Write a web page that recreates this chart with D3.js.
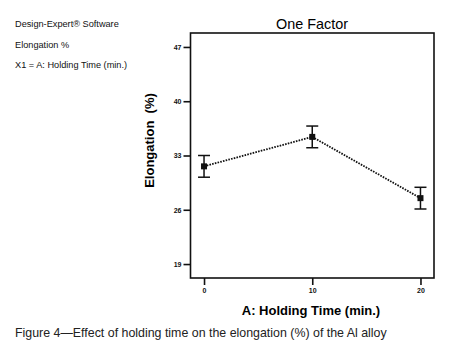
<!DOCTYPE html>
<html>
<script src="https://d3js.org/d3.v7.min.js"></script>

<head>
    <style>
        body {
            margin: 0;
            background-color: white;
            font-family: "Liberation Sans", Arial, Helvetica, sans-serif;
        }

        svg {
            display: block;
        }
    </style>
</head>

<body>
    <svg width="454" height="349"></svg>
</body>
<script>
    const width = 454,
        height = 349;
    const svg = d3.select("svg");

    // holding time (min.)
    const TIMES = [0, 10, 20];
    const MEANS = [31.6, 35.4, 27.5];
    const ERRORS = [1.4, 1.4, 1.4];
    const X_TICKS = [0, 10, 20];
    const Y_TICKS = [19, 26, 33, 40, 47];
    const INFO = ["Design-Expert® Software", "Elongation %", "X1 = A: Holding Time (min.)"];

    function draw() {
        const xScale = d3.scaleLinear().domain([-1.25, 21.25]).range([190.5, 434]);
        const yScale = d3.scaleLinear().domain([17.2, 48.8]).range([278, 33]);

        // info text on the left
        INFO.forEach((t, i) => {
            svg.append("text")
                .attr("x", 15)
                .attr("y", 27 + i * 20.5)
                .attr("font-size", "9.2px")
                .attr("fill", "#111")
                .text(t);
        });

        svg.append("text")
            .attr("x", 312)
            .attr("y", 29)
            .attr("text-anchor", "middle")
            .attr("font-size", "14.4px")
            .text("One Factor");

        // frame
        svg.append("rect")
            .attr("x", xScale(-1.25))
            .attr("y", yScale(48.8))
            .attr("width", xScale(21.25) - xScale(-1.25))
            .attr("height", yScale(17.2) - yScale(48.8))
            .attr("fill", "none")
            .attr("stroke", "#111")
            .attr("stroke-width", 1.6);

        // axes
        const yAxis = d3.axisLeft(yScale).tickValues(Y_TICKS).tickSize(7).tickPadding(2);
        const gy = svg.append("g")
            .attr("transform", `translate(${xScale(-1.25)},0)`)
            .call(yAxis);
        const xAxis = d3.axisBottom(xScale).tickValues(X_TICKS).tickSize(7).tickPadding(3);
        const gx = svg.append("g")
            .attr("transform", `translate(0,${yScale(17.2)})`)
            .call(xAxis);
        [gx, gy].forEach(g => {
            g.select(".domain").remove();
            g.selectAll("line").attr("stroke", "#111").attr("stroke-width", 1.6);
            g.selectAll("text")
                .attr("font-family", "'Liberation Sans', Arial, sans-serif")
                .attr("font-size", "7px")
                .attr("font-weight", "bold")
                .attr("fill", "#111");
        });

        // axis titles
        svg.append("text")
            .attr("transform", `translate(154,${yScale(33) - 15}) rotate(-90)`)
            .attr("text-anchor", "middle")
            .attr("font-size", "13px")
            .attr("font-weight", "bold")
            .attr("xml:space", "preserve")
            .style("white-space", "pre")
            .text("Elongation  (%)");
        svg.append("text")
            .attr("x", 311)
            .attr("y", 315)
            .attr("text-anchor", "middle")
            .attr("font-size", "13px")
            .attr("font-weight", "bold")
            .text("A: Holding Time (min.)");

        const data = TIMES.map((t, i) => ({ t: t, m: MEANS[i], e: ERRORS[i] }));

        // dotted connecting line
        svg.append("path")
            .datum(data)
            .attr("fill", "none")
            .attr("stroke", "#111")
            .attr("stroke-width", 1.8)
            .attr("stroke-dasharray", "1.6,1.2")
            .attr("d", d3.line().x(d => xScale(d.t)).y(d => yScale(d.m)));

        // error bars and markers
        data.forEach(d => {
            const x = xScale(d.t);
            svg.append("line")
                .attr("x1", x).attr("x2", x)
                .attr("y1", yScale(d.m + d.e)).attr("y2", yScale(d.m - d.e))
                .attr("stroke", "#111").attr("stroke-width", 1.5);
            [d.m + d.e, d.m - d.e].forEach(v => {
                svg.append("line")
                    .attr("x1", x - 6).attr("x2", x + 6)
                    .attr("y1", yScale(v)).attr("y2", yScale(v))
                    .attr("stroke", "#111").attr("stroke-width", 1.5);
            });
            svg.append("rect")
                .attr("x", x - 3).attr("y", yScale(d.m) - 3)
                .attr("width", 6).attr("height", 6)
                .attr("fill", "#111");
        });

        // caption
        svg.append("text")
            .attr("x", 15)
            .attr("y", 337)
            .attr("font-size", "12.4px")
            .attr("fill", "#222")
            .text("Figure 4\u2014Effect of holding time on the elongation (%) of the Al alloy");
    }

    draw();
</script>

</html>
